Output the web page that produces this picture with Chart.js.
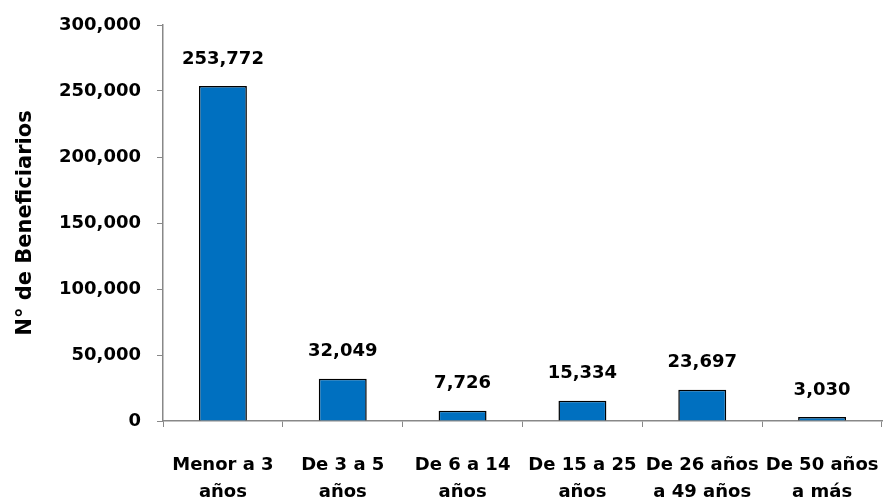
<!DOCTYPE html>
<html><head><meta charset="utf-8">
<script src="https://cdn.jsdelivr.net/npm/chart.js@4/dist/chart.umd.min.js"></script>
<style>html,body{margin:0;padding:0;background:#fff}#wrap{width:884px;height:504px}</style>
</head><body><div id="wrap"><canvas id="c" width="884" height="504"></canvas></div>
<script>
const categories = [["Menor a 3","años"],["De 3 a 5","años"],["De 6 a 14","años"],["De 15 a 25","años"],["De 26 años","a 49 años"],["De 50 años","a más"]];
const beneficiarios = [253772, 32049, 7726, 15334, 23697, 3030];
const yTicks = [0, 50000, 100000, 150000, 200000, 250000, 300000];
const yTitle = "N° de Beneficiarios";

const FONT = "'DejaVu Sans',sans-serif";
const fmt = v => v.toLocaleString('en-US');

const labelPlugin = {
  id: 'labels',
  afterDatasetsDraw(chart) {
    const ctx = chart.ctx;
    const meta = chart.getDatasetMeta(0);
    ctx.save();
    ctx.font = "bold 18px " + FONT;
    ctx.fillStyle = '#000';
    ctx.textAlign = 'center';
    ctx.textBaseline = 'middle';
    meta.data.forEach((bar, i) => {
      ctx.fillText(fmt(beneficiarios[i]), bar.x, bar.y - 27);
    });
    ctx.restore();
  }
};

new Chart(document.getElementById('c'), {
  type: 'bar',
  data: {
    labels: categories,
    datasets: [{
      data: beneficiarios,
      backgroundColor: '#0070C0',
      borderColor: '#000',
      borderWidth: 1.5,
      categoryPercentage: 1,
      barPercentage: 0.4
    }]
  },
  options: {
    responsive: false,
    animation: false,
    layout: { padding: { top: 25, right: 2, left: 0, bottom: 0 } },
    plugins: { legend: { display: false }, tooltip: { enabled: false } },
    scales: {
      x: {
        grid: { offset: true, drawOnChartArea: false, drawTicks: true, tickLength: 6, color: '#888' },
        border: { color: '#888', width: 1.5 },
        ticks: { color: '#000', font: { family: FONT, size: 18, weight: 'bold', lineHeight: 1.5 }, padding: 25, maxRotation: 0, autoSkip: false },
        afterFit(s) { s.height = 83; s.paddingLeft = 0; s.paddingRight = 0; }
      },
      y: {
        min: 0, max: 300000,
        afterBuildTicks(s) { s.ticks = yTicks.map(v => ({ value: v })); },
        grid: { drawOnChartArea: false, drawTicks: true, tickLength: 6, color: '#888' },
        border: { color: '#888', width: 1.5 },
        ticks: { color: '#000', font: { family: FONT, size: 18, weight: 'bold' }, padding: 16, callback: v => fmt(v) },
        title: { display: true, text: yTitle, color: '#000', font: { family: FONT, size: 21, weight: 'bold' }, padding: { top: 13, bottom: 0 } },
        afterFit(s) { s.width = 163; s.paddingTop = 0; s.paddingBottom = 0; }
      }
    }
  },
  plugins: [labelPlugin]
});
</script></body></html>
